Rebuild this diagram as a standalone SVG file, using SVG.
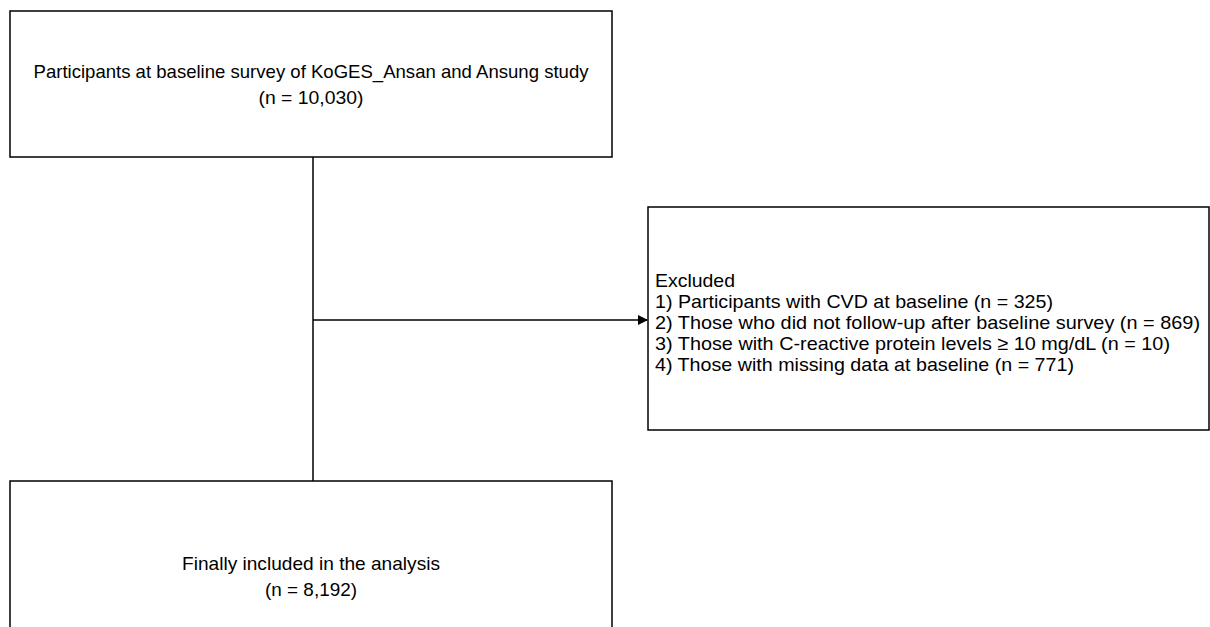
<svg xmlns="http://www.w3.org/2000/svg" width="1210" height="627" viewBox="0 0 1210 627">
<style>
.box{fill:#fff;stroke:#000;stroke-width:1.5}
.t{font-family:"Liberation Sans",Arial,sans-serif;font-size:19px;fill:#000}
.c{text-anchor:middle}
.ln{stroke:#000;stroke-width:1.5;fill:none}
</style>
<defs>
<marker id="arr" markerWidth="10" markerHeight="10" refX="9" refY="5" orient="auto" markerUnits="userSpaceOnUse">
<path d="M0,0 L10,5 L0,10 z" fill="#000"/>
</marker>
</defs>
<rect width="1210" height="627" fill="#fff"/>
<g id="connectors">
<line class="ln" x1="313" y1="157" x2="313" y2="481"/>
<line class="ln" x1="313" y1="320" x2="647" y2="320" marker-end="url(#arr)"/>
</g>
<g id="baseline">
<rect class="box" x="10" y="11" width="602" height="146"/>
<text class="t c" x="311" y="78" textLength="555" lengthAdjust="spacingAndGlyphs">Participants at baseline survey of KoGES_Ansan and Ansung study</text>
<text class="t c" x="311" y="104" textLength="105" lengthAdjust="spacingAndGlyphs">(n = 10,030)</text>
</g>
<g id="excluded">
<rect class="box" x="648" y="207" width="561" height="223"/>
<text class="t" x="655" y="287" textLength="80" lengthAdjust="spacingAndGlyphs">Excluded</text>
<text class="t" x="655" y="308" textLength="398" lengthAdjust="spacingAndGlyphs">1) Participants with CVD at baseline (n = 325)</text>
<text class="t" x="655" y="329" textLength="545" lengthAdjust="spacingAndGlyphs">2) Those who did not follow-up after baseline survey (n = 869)</text>
<text class="t" x="655" y="350" textLength="515" lengthAdjust="spacingAndGlyphs">3) Those with C-reactive protein levels ≥ 10 mg/dL (n = 10)</text>
<text class="t" x="655" y="371" textLength="419" lengthAdjust="spacingAndGlyphs">4) Those with missing data at baseline (n = 771)</text>
</g>
<g id="final">
<rect class="box" x="10" y="481" width="602" height="160"/>
<text class="t c" x="311" y="570" textLength="258" lengthAdjust="spacingAndGlyphs">Finally included in the analysis</text>
<text class="t c" x="311" y="596" textLength="92" lengthAdjust="spacingAndGlyphs">(n = 8,192)</text>
</g>
</svg>
